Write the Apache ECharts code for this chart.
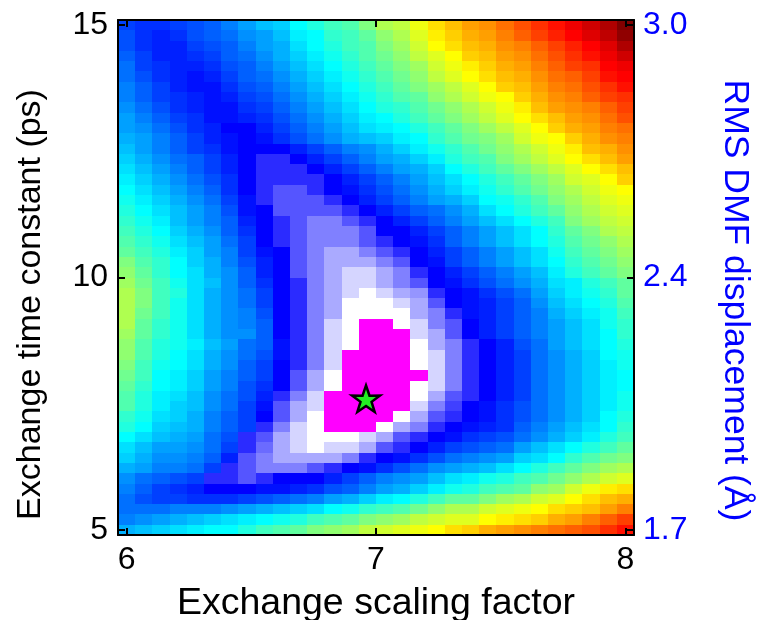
<!DOCTYPE html>
<html>
<head>
<meta charset="utf-8">
<script src="https://cdn.jsdelivr.net/npm/echarts@6/dist/echarts.min.js"></script>
<style>
  html, body { margin: 0; padding: 0; background: #ffffff; }
  #chart { width: 758px; height: 620px; }
</style>
</head>
<body>
<div id="chart"></div>
<script>
// Grid coordinates: exchange scaling factor (columns) and time constant in ps (rows, top to bottom)
const xValues = [6.000, 6.069, 6.138, 6.207, 6.276, 6.345, 6.414, 6.483, 6.552, 6.621,
                 6.690, 6.759, 6.828, 6.897, 6.966, 7.034, 7.103, 7.172, 7.241, 7.310,
                 7.379, 7.448, 7.517, 7.586, 7.655, 7.724, 7.793, 7.862, 7.931, 8.000];
const yValues = [15.000, 14.796, 14.592, 14.388, 14.184, 13.980, 13.776, 13.571, 13.367, 13.163,
                 12.959, 12.755, 12.551, 12.347, 12.143, 11.939, 11.735, 11.531, 11.327, 11.122,
                 10.918, 10.714, 10.510, 10.306, 10.102, 9.898, 9.694, 9.490, 9.286, 9.082,
                 8.878, 8.673, 8.469, 8.265, 8.061, 7.857, 7.653, 7.449, 7.245, 7.041,
                 6.837, 6.633, 6.429, 6.224, 6.020, 5.816, 5.612, 5.408, 5.204, 5.000];

// Colour level of the RMS DMF displacement in each cell (0 = closest fit, 35 = worst)
const levelRows = [
  [9, 8.5, 8.5, 9, 9.5, 10, 11, 12, 13, 13.5, 15, 16, 17, 17.5, 19, 20.5, 21, 22.5, 24, 25, 26, 26.5, 27.5, 28.5, 29.5, 30.5, 31.5, 32.5, 33.5, 35],
  [9.5, 8.5, 8, 8.5, 9.5, 10, 10.5, 11.5, 12, 13, 14.5, 15, 16.5, 17, 18, 19.5, 20.5, 22, 23.5, 24.5, 25.5, 26, 27, 28, 29, 30, 31, 32, 33, 34.5],
  [9.5, 8.5, 8, 8, 9, 9.5, 10, 11, 12, 12.5, 14, 15, 16, 17, 17.5, 19, 20, 21.5, 23, 24, 25, 25.5, 26.5, 27, 28, 29, 30, 31, 32, 33.5],
  [10, 9, 8, 8, 8.5, 9, 10, 10.5, 11.5, 12.5, 13.5, 14.5, 15.5, 16.5, 17.5, 18.5, 19.5, 21, 22, 23, 24.5, 25, 26, 26.5, 27.5, 28.5, 29.5, 30.5, 31.5, 32.5],
  [10.5, 9, 8.5, 8, 8, 8.5, 9.5, 10, 11, 12, 13, 14, 15, 16, 17, 18, 19, 20, 21.5, 22.5, 23.5, 24.5, 25.5, 26, 27, 28, 29, 29.5, 31, 31.5],
  [10.5, 9.5, 8.5, 8, 7.5, 8, 9, 10, 10.5, 11.5, 12.5, 13.5, 14.5, 15.5, 16.5, 17.5, 18.5, 19.5, 21, 22, 23, 24, 25, 25.5, 26.5, 27.5, 28, 29, 30.5, 31],
  [11, 10, 9, 8, 7.5, 7.5, 8.5, 9.5, 10, 11, 12, 13, 14, 15, 16, 17, 18, 19, 20, 21, 22, 23, 24.5, 25, 26, 27, 27.5, 28.5, 29.5, 30.5],
  [11, 10, 9, 8.5, 8, 7.5, 8, 9, 9.5, 10.5, 11.5, 12.5, 13.5, 14.5, 15.5, 16.5, 17.5, 18, 19.5, 20.5, 21.5, 22.5, 23, 24.5, 25.5, 26.5, 27, 28, 29, 29.5],
  [11.5, 10.5, 9.5, 8.5, 8, 7.5, 7.5, 8.5, 9, 10, 11, 12, 13, 14, 15, 16, 16.5, 17.5, 18.5, 19.5, 20.5, 21.5, 22.5, 23.5, 25, 26, 26.5, 27, 28, 29],
  [12, 11, 10, 9, 8.5, 7.5, 7.5, 8, 8.5, 9.5, 10.5, 11.5, 12.5, 13.5, 14.5, 15, 16, 17, 18, 19, 20, 21, 22, 23, 24, 25, 26, 26.5, 27.5, 28.5],
  [12, 11.5, 10.5, 9.5, 8.5, 8, 7, 7, 8, 9, 10, 11, 12, 13, 14, 14.5, 15, 16, 17, 18, 19, 20, 21, 22, 23, 24.5, 25.5, 26, 27, 27.5],
  [12.5, 12, 11, 10, 9, 8, 7.5, 7, 7.5, 8.5, 9.5, 10.5, 11.5, 12.5, 13, 13.5, 14.5, 15, 16.5, 17.5, 18.5, 19, 20, 21.5, 22.5, 23, 24.5, 25.5, 26.5, 27],
  [13, 12, 11, 10, 9, 8.5, 7.5, 7, 7, 7, 8, 9, 10, 11, 11.5, 12.5, 13.5, 14.5, 15.5, 16.5, 17.5, 18.5, 19.5, 20.5, 21.5, 22.5, 23.5, 25, 25.5, 26.5],
  [13.5, 12.5, 11.5, 10.5, 10, 9, 8, 7, 6, 6, 7, 8, 9, 10, 11, 12, 12.5, 13.5, 14.5, 16, 17, 17.5, 19, 20, 21, 22, 23, 24, 25, 26],
  [14, 13, 12, 11, 10, 9, 8, 7, 6, 6, 6, 7, 8, 9, 10, 11, 12, 12.5, 13.5, 15, 16, 17, 18, 19, 20, 21, 22, 23, 24, 25],
  [14.5, 13.5, 12.5, 11.5, 10.5, 9.5, 8.5, 7, 6, 6, 6, 6, 7, 8, 9, 10, 11, 12, 13, 14, 15, 16, 17, 18, 19, 20, 21.5, 22, 23, 24.5],
  [15, 14, 13, 12, 11, 10, 8.5, 7, 6, 5, 5, 6, 7, 7.5, 8.5, 9.5, 10.5, 11.5, 12.5, 13.5, 14.5, 15.5, 16.5, 17.5, 18.5, 19.5, 20.5, 21.5, 22.5, 23],
  [15.5, 14.5, 13.5, 12.5, 11.5, 10.5, 9, 7.5, 6, 5, 5, 5, 6, 7, 8, 9, 10, 11, 12, 12.5, 13.5, 15, 15.5, 16.5, 17.5, 19, 20, 21, 22, 22.5],
  [16, 15, 14, 13, 12, 11, 9.5, 7.5, 7, 5, 5, 5, 5, 6, 7, 8, 9, 10, 10.5, 11.5, 12.5, 14, 15, 16, 17, 18, 19.5, 20.5, 21.5, 22],
  [16.5, 15.5, 14.5, 13, 12, 11, 10, 8, 7, 6, 5, 4, 4, 5, 6, 7, 8, 9, 10, 11, 12, 13, 14, 15, 16, 17, 19, 20, 21, 21.5],
  [17, 16, 15, 13.5, 12.5, 11.5, 10, 8.5, 7, 6, 5, 4, 4, 4, 5, 7, 7, 8, 9, 10, 11, 12, 13, 14, 15, 16.5, 18, 19, 20.5, 21],
  [17.5, 16.5, 15.5, 14, 13, 12, 10.5, 9, 7, 6, 5, 4, 4, 4, 5, 6, 7, 7.5, 8.5, 10, 11, 12, 13, 14, 15, 16, 17.5, 18.5, 19.5, 20.5],
  [18, 17, 16, 14.5, 13.5, 12, 11, 9, 7.5, 7, 5, 4, 3, 3, 4, 5, 6, 7, 8, 9, 10, 11, 12, 13, 14, 15.5, 17, 18, 19, 20],
  [19, 17.5, 16.5, 15, 13.5, 12.5, 11, 9.5, 8, 7, 5, 4, 3, 3, 3, 4, 5, 7, 7.5, 9, 10, 11, 12, 13, 14, 15, 16.5, 17.5, 18.5, 19.5],
  [19.5, 18, 16.5, 15, 14, 12.5, 11.5, 10, 8, 7, 5, 4, 3, 2, 2, 3, 4, 6, 7, 8, 9, 10, 11, 12, 13, 14.5, 16, 17, 18, 19],
  [20, 18.5, 17, 15.5, 14, 13, 11.5, 10, 8.5, 7, 6, 4, 3, 2, 2, 3, 4, 5, 7, 7.5, 8.5, 9.5, 10.5, 11.5, 12.5, 14, 14.5, 16, 17, 18],
  [20.5, 19, 17, 16, 14, 12.5, 11.5, 10.5, 9, 7, 6, 4, 3, 2, 1, 2, 3, 3.5, 6, 7, 7.5, 8.5, 9.5, 10.5, 12, 13.5, 14.5, 15.5, 16.5, 18],
  [20.5, 19, 17, 15.5, 14, 12.5, 11.5, 10.5, 9, 7, 6, 4, 3, 1, 1, 1, 2, 3, 5, 7, 7.5, 8, 9, 10, 11.5, 13, 14, 15, 16, 17.5],
  [20.5, 18.5, 17, 15.5, 14, 12.5, 11.5, 11, 9.5, 7, 6, 4, 3, 1, 1, 1, 1, 3, 4, 6, 7.5, 8, 9, 10, 11, 12.5, 13.5, 14.5, 15.5, 17],
  [20.5, 18, 16.5, 15.5, 14, 12.5, 11.5, 11, 10, 7, 6, 4, 2, 1, 0, 0, 1, 2, 4, 5, 7, 8, 9, 10, 11, 12, 13, 14, 15.5, 16.5],
  [20, 18, 16.5, 15.5, 14, 12.5, 11.5, 11.5, 10, 7, 6, 4, 2, 1, 0, 0, 0, 2, 3, 5, 7, 8, 9, 10, 11, 12, 13, 14, 15, 16.5],
  [19.5, 17.5, 16, 15.5, 14.5, 13, 12, 10.5, 10, 7.5, 6, 4, 2, 1, 0, 0, 0, 1, 3, 4, 6, 7, 8, 9.5, 10.5, 12, 13, 14, 15, 16],
  [19.5, 17.5, 16, 15, 14, 12.5, 11.5, 10.5, 9.5, 7.5, 6, 4, 2, 0, 0, 0, 0, 1, 2, 4, 6, 7, 8, 9, 10.5, 11.5, 12.5, 13.5, 15, 15.5],
  [19, 17, 15.5, 15, 14, 12.5, 11.5, 10, 9, 7, 6, 4, 2, 0, 0, 0, 0, 1, 2, 4, 6, 7, 8, 9, 10.5, 11.5, 12.5, 13.5, 14.5, 15.5],
  [18.5, 17, 15, 14.5, 13.5, 12, 11, 10, 9, 7, 5, 3, 1, 0, 0, 0, 0, 0, 2, 4, 6, 7, 8, 9, 10.5, 11.5, 12.5, 13.5, 14.5, 15],
  [18, 16.5, 15, 14.5, 13.5, 12, 11, 9.5, 8.5, 7, 5, 3, 1, 0, 0, 0, 0, 1, 2, 4, 6, 7, 8, 9, 10.5, 11.5, 12.5, 13.5, 14.5, 15],
  [17.5, 16, 14.5, 14, 13, 11.5, 10.5, 9.5, 8, 6, 4, 2, 0, 0, 0, 0, 0, 1, 3, 5, 6, 7, 8, 9, 10.5, 11.5, 12.5, 13.5, 14.5, 15.5],
  [17.5, 16, 14.5, 13.5, 13, 11.5, 10.5, 9, 7.5, 5, 3, 2, 0, 0, 0, 0, 0, 2, 4, 5.5, 7, 7.5, 8.5, 9.5, 10.5, 11.5, 12.5, 13.5, 14.5, 15.5],
  [16.5, 15.5, 14, 13.5, 12.5, 11, 10, 9, 7, 5, 3, 1, 0, 0, 0, 0, 1, 3, 5, 6, 7, 7.5, 8.5, 9.5, 10.5, 11.5, 12.5, 13.5, 15, 16],
  [16, 15, 13.5, 13, 12.5, 11, 10, 9, 6, 4, 2, 1, 0, 0, 0, 1, 3, 4, 6, 7, 7.5, 8, 8.5, 10, 11, 12, 13, 14, 15, 16.5],
  [15, 14, 13, 12.5, 12, 10.5, 9.5, 6, 5, 3, 2, 1, 1, 1, 2, 3, 5, 6, 7, 7.5, 8.5, 9, 9.5, 10.5, 11.5, 12.5, 13.5, 14.5, 16, 17],
  [14, 13, 12, 12, 11.5, 10.5, 9, 6, 4.5, 3, 2, 1, 2, 2, 3, 5, 6, 7, 8, 9, 9.5, 10, 10.5, 12, 13, 14, 15, 16, 17, 18],
  [13.5, 12.5, 11.5, 11.5, 11, 10, 8, 5, 4, 3, 3, 3, 3, 4, 6, 7, 7.5, 8.5, 9.5, 10.5, 11, 11.5, 12, 13.5, 14, 15, 16.5, 17.5, 18.5, 19],
  [12.5, 12, 11, 11, 10.5, 9, 6, 5, 4, 4, 4, 5, 6, 7, 7.5, 8.5, 9.5, 10.5, 11.5, 12, 12.5, 13, 14, 15, 16, 17, 18, 19, 20, 20.5],
  [11.5, 10.5, 10, 9.5, 9, 6, 6, 5, 6, 7, 7, 7, 8, 9, 10, 11, 11.5, 12, 13, 14, 14.5, 15.5, 16, 17, 17.5, 18.5, 19.5, 20.5, 21.5, 22],
  [11, 10, 9, 8.5, 8, 7, 7, 7, 7.5, 7.5, 8, 8.5, 9.5, 10, 11, 12, 12.5, 13.5, 14.5, 15.5, 16, 17, 17.5, 18, 19.5, 20, 21.5, 22.5, 23.5, 24],
  [10.5, 9.5, 9, 9, 8.5, 8.5, 8.5, 9, 9.5, 10, 10.5, 11, 12, 12.5, 13.5, 14.5, 15, 16, 17, 18, 18, 19, 20, 20.5, 21.5, 22, 23, 24, 25, 25.5],
  [10.5, 10.5, 10.5, 11, 11, 11, 11.5, 12, 12.5, 13, 13.5, 14, 15, 15.5, 16.5, 17, 17.5, 18.5, 19.5, 20.5, 20.5, 21.5, 22, 22.5, 23, 24, 24.5, 25, 26, 27],
  [11, 11.5, 12, 12.5, 13, 13.5, 14, 14.5, 15, 15.5, 16, 17, 17.5, 18, 19, 19.5, 20, 21, 21.5, 22, 22, 23, 23.5, 24, 24.5, 25.5, 26, 27, 28, 29],
  [12.5, 13, 13.5, 14, 14.5, 15, 15, 16, 17, 17.5, 18, 19, 19.5, 20, 21, 21.5, 22, 22.5, 23, 24, 24.5, 25.5, 26, 26.5, 27, 27.5, 28, 28.5, 29.5, 30.5]
];

// Colour for each level: magenta / white / lavender steps for the best fits, then jet
const levelColors = [
  '#ff00ff', '#ffffff', '#d5d5ff', '#aaaaff', '#8080ff', '#5555ff', '#2b2bff',
  '#0000ff', '#0020ff', '#0040ff', '#0060ff', '#0080ff', '#00a0ff', '#00c0ff', '#00e0ff',
  '#00ffff', '#20ffdf', '#40ffbf', '#60ff9f', '#80ff80', '#9fff60', '#bfff40', '#dfff20',
  '#ffff00', '#ffdf00', '#ffbf00', '#ff9f00', '#ff8000', '#ff6000', '#ff4000', '#ff2000',
  '#ff0000', '#df0000', '#bf0000', '#9f0000', '#800000'
];

// Ticks and labels
const xTickValues = [6, 7, 8];
const yTickValues = [5, 10, 15];
const rmsTickLabels = ['1.7', '2.4', '3.0'];

// Best-fit parameters (star)
const optimum = [6.96, 7.6];

// Cell edges: half-way between neighbouring grid coordinates, padded by half a step at the ends
function cellEdges(vals) {
  const n = vals.length;
  const edges = [vals[0] - (vals[1] - vals[0]) / 2];
  for (let i = 1; i < n; i++) edges.push((vals[i - 1] + vals[i]) / 2);
  edges.push(vals[n - 1] + (vals[n - 1] - vals[n - 2]) / 2);
  return edges;
}
const xEdges = cellEdges(xValues);
const yEdges = cellEdges(yValues); // top to bottom
const xMin = xEdges[0], xMax = xEdges[xEdges.length - 1];
const yMax = yEdges[0], yMin = yEdges[yEdges.length - 1];

// [x, y, level, column, row]
const cells = [];
levelRows.forEach(function (row, r) {
  row.forEach(function (v, c) { cells.push([xValues[c], yValues[r], v, c, r]); });
});

const FONT = 'Liberation Sans, Arial, Helvetica, sans-serif';
const frameLine = { show: true, onZero: false, lineStyle: { color: '#000', width: 2 } };
const innerTick = function (vals) {
  return { show: true, inside: true, length: 7, customValues: vals, lineStyle: { color: '#000', width: 2 } };
};

const chart = echarts.init(document.getElementById('chart'), null, { renderer: 'canvas' });

chart.setOption({
  backgroundColor: '#ffffff',
  animation: false,
  grid: { left: 118, right: 124, top: 20, bottom: 85, containLabel: false, outerBoundsMode: 'none' },
  visualMap: {
    type: 'continuous', show: false, min: 0, max: 35, dimension: 2, seriesIndex: 0,
    inRange: { color: levelColors }
  },
  xAxis: [
    {
      type: 'value', position: 'bottom', min: xMin, max: xMax, z: 10,
      axisLine: frameLine, axisTick: innerTick(xTickValues), splitLine: { show: false },
      axisLabel: { customValues: xTickValues, color: '#000', fontFamily: FONT, fontSize: 32, margin: 9 },
      name: 'Exchange scaling factor', nameLocation: 'middle', nameGap: 50,
      nameTextStyle: { color: '#000', fontFamily: FONT, fontSize: 37.5 }
    },
    {
      type: 'value', position: 'top', min: xMin, max: xMax, z: 10,
      axisLine: frameLine, axisTick: innerTick(xTickValues), splitLine: { show: false },
      axisLabel: { show: false }
    }
  ],
  yAxis: [
    {
      type: 'value', position: 'left', min: yMin, max: yMax, z: 10,
      axisLine: frameLine, axisTick: innerTick(yTickValues), splitLine: { show: false },
      axisLabel: { customValues: yTickValues, color: '#000', fontFamily: FONT, fontSize: 32, margin: 10 },
      name: 'Exchange time constant (ps)', nameLocation: 'middle', nameGap: 70,
      nameTextStyle: { color: '#000', fontFamily: FONT, fontSize: 34, padding: [0, 54, 0, 0] }
    },
    {
      type: 'value', position: 'right', min: yMin, max: yMax, z: 10,
      axisLine: frameLine, axisTick: innerTick(yTickValues), splitLine: { show: false },
      axisLabel: {
        customValues: yTickValues, color: '#0000ff', fontFamily: FONT, fontSize: 32, margin: 9,
        formatter: function (v) { return rmsTickLabels[yTickValues.indexOf(Math.round(v))]; }
      },
      name: 'RMS DMF displacement (Å)', nameLocation: 'middle', nameGap: 83, nameRotate: -90,
      nameTextStyle: { color: '#0000ff', fontFamily: FONT, fontSize: 35.5, padding: [0, 0, 0, 46] }
    }
  ],
  series: [
    {
      type: 'custom',
      xAxisIndex: 0, yAxisIndex: 0,
      data: cells,
      encode: { x: 0, y: 1 },
      renderItem: function (params, api) {
        const c = api.value(3), r = api.value(4);
        const p0 = api.coord([xEdges[c], yEdges[r]]);
        const p1 = api.coord([xEdges[c + 1], yEdges[r + 1]]);
        const x0 = Math.round(p0[0]), y0 = Math.round(p0[1]);
        const x1 = Math.round(p1[0]), y1 = Math.round(p1[1]);
        return {
          type: 'rect',
          shape: { x: x0, y: y0, width: x1 - x0, height: y1 - y0 },
          style: { fill: api.visual('color') }
        };
      },
      z: 2
    },
    {
      type: 'scatter',
      xAxisIndex: 0, yAxisIndex: 0,
      data: [optimum],
      symbol: 'path://M50,0 L61.8,35.1 L97.6,34.5 L68.8,56.2 L79.4,90.5 L50,70 L20.6,90.5 L31.2,56.2 L2.4,34.5 L38.2,35.1 Z',
      symbolKeepAspect: true,
      symbolSize: 28,
      itemStyle: { color: '#22ee22', borderColor: '#000', borderWidth: 2.5, opacity: 1 },
      z: 5
    }
  ]
});
</script>
</body>
</html>
